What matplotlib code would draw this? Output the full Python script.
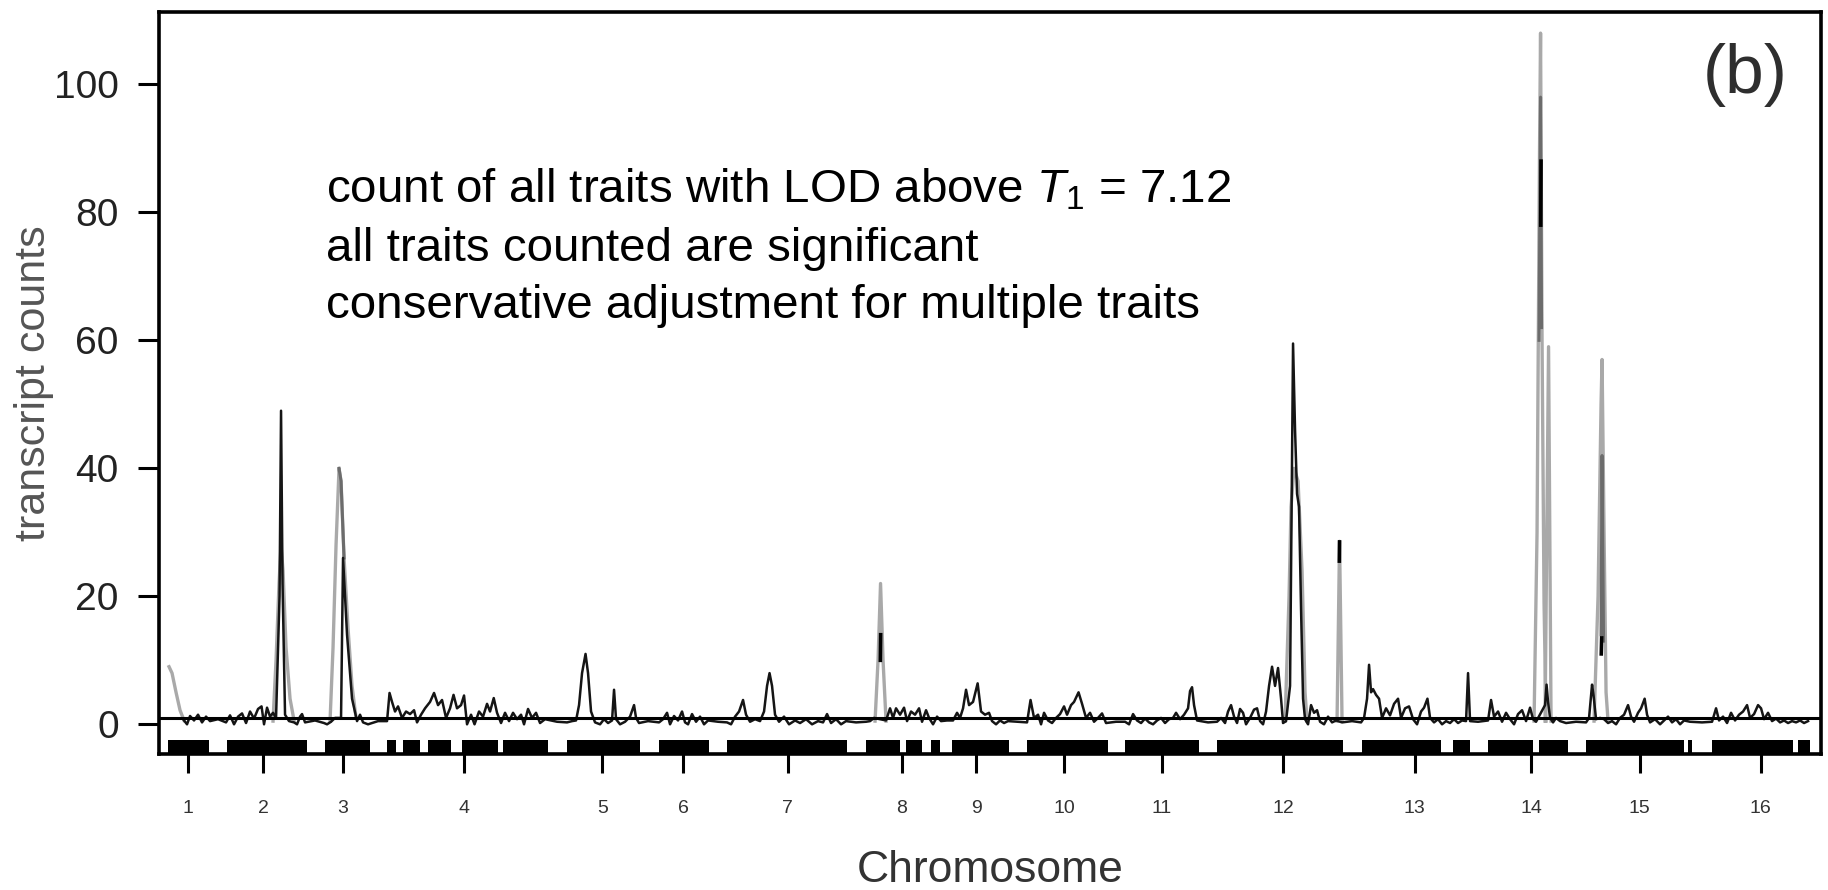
import numpy as np
import matplotlib
matplotlib.use("Agg")
import matplotlib.pyplot as plt

plt.rcParams['font.family'] = ['Liberation Sans', 'DejaVu Sans']
plt.rcParams['mathtext.fontset'] = 'custom'
plt.rcParams['mathtext.rm'] = 'Liberation Sans'
plt.rcParams['mathtext.it'] = 'Liberation Sans:italic'

nan = np.nan

# chromosome labels and their centre positions on the concatenated map
chrom_labels = [str(i) for i in range(1, 17)]
chrom_centers = [29, 104, 184, 305, 443.3, 524.2, 628.6, 743, 817, 905.3,
                 1002.8, 1124.3, 1255.6, 1372.3, 1480.5, 1601.6]

# marker-covered stretches of each chromosome (start, end)
marker_starts = [9, 68, 165.5, 228, 243.5, 269, 303, 344, 407.5, 499.5, 568,
                 706.5, 747, 772, 793, 868, 966, 1057.5, 1202.5, 1293.5,
                 1328.5, 1380, 1427, 1529, 1553, 1639]
marker_ends = [49.5, 147.5, 211, 237, 261, 292, 338.5, 389, 480.5, 549.5, 688,
               741, 763, 781, 850, 949, 1040, 1184, 1282, 1311,
               1374, 1408.5, 1525, 1533, 1634, 1651]

# transcript counts, main profile
count_pos = [
    25, 28, 31, 35, 39, 43, 47, 51, 59,
    67, 71, 75, 79, 83, 87, 91, 95, 99, 102.5, 105, 108, 111, 114, 117, 120.5,
    122, 123.5, 126, 130, 135, 138, 141, 143, 146, 156,
    165, 168, 172, 176, 182, 184, 188, 193, 198, 201, 204, 209, 219,
    228, 230.5, 233, 236, 239, 243, 247, 251, 255, 258, 262, 266, 271, 275, 279,
    283, 287, 291, 294.5, 298, 302, 305, 308, 312, 315.5, 320, 324, 328, 331,
    334.7, 338, 342, 346, 350, 354, 358, 362, 365, 369, 373, 377, 381, 386, 398,
    408, 413, 417, 420, 423, 426.5, 429, 432, 436, 441, 445, 449, 453, 455, 457,
    461, 466, 471, 475, 477, 480, 489,
    500, 504, 508, 511, 515, 519, 523, 526, 529, 533, 537, 541, 545, 549, 559,
    568, 572, 576, 580, 584, 587, 591, 596, 601, 605, 608, 610.5, 613, 616, 620,
    625, 630, 636, 641, 647, 653, 659, 664, 668, 672, 677, 682, 687, 697,
    707, 711, 715, 727, 731, 734, 737, 741, 745, 748, 752, 756, 760, 763, 767,
    770, 774, 778, 782, 788,
    794, 798, 801, 804, 807, 810, 814, 818.6, 822, 826, 830, 833, 837, 841, 845,
    849, 858,
    868, 871.5, 875, 879, 882, 885, 889, 893, 897, 901, 905, 908, 912, 915,
    919.5, 923, 927, 931, 935, 939, 943, 947, 957,
    966, 970, 974, 978, 982, 986, 990, 994, 998, 1002, 1006, 1010, 1014, 1017,
    1021, 1025, 1029, 1031, 1033, 1035, 1038, 1049,
    1058, 1062, 1066, 1069, 1072, 1075, 1078, 1081, 1084, 1087, 1091, 1095,
    1098, 1101, 1104, 1107, 1110, 1113, 1116, 1119, 1122, 1124, 1127, 1131,
    1134, 1136, 1138, 1140, 1142, 1144, 1146, 1149, 1152, 1155, 1158, 1161,
    1165, 1169, 1173, 1177, 1183, 1193,
    1202, 1205, 1208, 1210, 1212, 1214, 1217, 1220, 1223, 1227, 1231, 1235,
    1239, 1242, 1246, 1250, 1254, 1258, 1262, 1265, 1268.4, 1271, 1275, 1279,
    1283, 1287, 1291, 1295, 1299, 1303, 1307, 1309, 1311, 1319,
    1329, 1332, 1335, 1339, 1343, 1347, 1351, 1355, 1359, 1363, 1367, 1371,
    1374, 1377, 1386, 1387.5, 1389, 1391, 1394, 1397, 1401, 1407, 1417,
    1427, 1430, 1432, 1433, 1434.5, 1437, 1441, 1445, 1449, 1453, 1457, 1461,
    1465, 1469, 1472, 1475, 1479, 1482, 1485.6, 1488, 1491, 1496, 1501, 1505,
    1509, 1513, 1517, 1521, 1525, 1531, 1543,
    1553, 1557, 1560, 1564, 1568, 1572, 1576, 1580, 1584, 1588, 1591, 1595,
    1599, 1602, 1605, 1609, 1613, 1617, 1621, 1625, 1629, 1633, 1637, 1641,
    1645, 1649,
]
count_val = [
    0.6, 0.0, 1.3, 0.6, 1.5, 0.3, 1.2, 0.5, 0.8,
    0.3, 1.4, 0.0, 1.2, 1.7, 0.2, 2.0, 0.9, 2.4, 2.8, 0.0, 2.6, 1.2, 1.8, 1.0, 20,
    49, 22, 1.5, 0.5, 0.3, 0.0, 1.2, 1.6, 0.3, 0.6,
    0.2, 0.0, 0.4, 1.0, 1.0, 26, 14, 4, 0.5, 1.5, 0.3, 0.0, 0.5,
    0.5, 4.9, 3.5, 2.0, 2.8, 1.0, 2.0, 1.6, 2.2, 0.3, 1.5, 2.5, 3.5, 4.9, 3.0,
    3.8, 1.0, 2.5, 4.6, 2.5, 3.0, 4.5, 0.0, 1.5, 0.0, 2.0, 1.2, 3.2, 2.0,
    4.1, 1.8, 0.2, 1.8, 0.5, 1.8, 0.8, 1.5, 0.0, 2.4, 1.0, 1.8, 0.2, 0.8, 0.4,
    0.3, 0.5, 0.6, 3, 8, 11, 8, 2, 0.3, 0.0, 0.8, 0.2, 0.6, 5.4, 0.8,
    0.0, 0.4, 1.2, 3.0, 1.0, 0.2, 0.5,
    0.3, 0.8, 1.8, 0.0, 1.3, 0.6, 2.0, 0.3, 0.0, 1.6, 0.4, 1.2, 0.0, 0.6, 0.4,
    0.3, 0.0, 1.2, 2.0, 3.8, 1.5, 0.4, 0.8, 0.5, 2, 6, 8, 6, 1.5, 0.4,
    1.2, 0.0, 0.6, 0.2, 0.8, 0.0, 0.5, 0.3, 1.6, 0.2, 0.8, 0.0, 0.5, 0.3,
    0.4, 0.5, 1.0, 0.6, 2.5, 1.0, 2.5, 1.5, 2.6, 0.5, 2.0, 1.5, 2.5, 0.4, 2.2,
    1.0, 0.0, 1.2, 0.5, 0.6,
    0.6, 1.8, 1.0, 2.5, 5.4, 3.0, 3.5, 6.4, 2.0, 1.5, 1.8, 0.5, 0.0, 0.6, 0.2,
    0.5, 0.4,
    0.3, 3.8, 1.0, 1.5, 0.0, 1.8, 0.6, 0.2, 1.0, 1.6, 2.8, 1.5, 3.0, 3.5,
    5.0, 3.2, 1.0, 1.8, 0.4, 1.0, 1.7, 0.2, 0.4,
    0.4, 0.0, 1.6, 0.6, 0.2, 0.9, 0.3, 0.0, 0.6, 1.0, 0.2, 0.8, 1.0, 1.8,
    0.8, 1.5, 2.5, 5.2, 5.8, 3.0, 0.6, 0.3,
    0.4, 1.0, 0.2, 2.0, 3.0, 1.2, 0.2, 2.4, 1.8, 0.0, 1.0, 2.3,
    2.5, 0.5, 0.0, 2.0, 6, 9.0, 6.0, 8.8, 4.0, 0.2, 0.5, 6,
    59.5, 46, 36, 34, 18, 4, 0.8, 0.0, 3.0, 1.8, 2.2, 0.4,
    0.0, 1.2, 0.3, 0.6, 0.3, 0.5,
    0.3, 1.0, 4, 9.3, 5, 5.5, 4.6, 4.0, 1.0, 2.5, 1.4, 3.2,
    4.0, 1.0, 2.5, 2.8, 0.8, 0.0, 2.0, 2.6, 4.0, 1.0, 0.3, 0.8,
    0.0, 0.5, 0.2, 0.8, 0.2, 0.6, 0.5, 8.0, 0.5, 0.4,
    0.6, 3.8, 1.2, 2.0, 0.4, 1.8, 0.8, 0.0, 1.6, 2.2, 0.5, 2.6,
    0.8, 0.4, 3.0, 6.2, 3.5, 1.0, 0.3, 1.0, 0.5, 0.2, 0.4,
    0.3, 1.0, 4.5, 6.2, 4.5, 0.8, 1.0, 0.8, 0.2, 0.5, 0.0, 1.0,
    1.5, 3.0, 1.2, 0.4, 1.8, 2.5, 4.0, 1.5, 0.3, 0.8, 0.0, 0.6,
    1.2, 0.3, 0.8, 0.0, 0.6, 0.4, 0.3,
    0.4, 2.5, 0.6, 1.2, 0.2, 1.8, 0.6, 1.5, 2.0, 3.0, 1.0, 1.6,
    3.0, 2.5, 0.8, 1.8, 0.5, 0.9, 0.3, 0.6, 0.2, 0.5, 0.3, 0.6,
    0.2, 0.5,
]

# broad hotspot peaks (light grey trace)
peak_pos = [10, 13, 17, 21, 25, nan,
            114, 117, 120, 122, 124, 127, 131, 135, nan,
            171, 174, 177, 180, 182, 185, 189, 193, 197, nan,
            716, 719, 721.5, 724, 727, nan,
            1126, 1130, 1132, 1135, 1139, 1143, 1146, 1148, nan,
            1178, 1180.5, 1183, nan,
            1375, 1378, 1380.5, 1381.5, 1383, 1385, 1387, nan,
            1386, 1389.5, 1392, nan,
            1435, 1439, 1442, 1443, 1445, 1447, 1449]
peak_val = [9.0, 8.0, 5.0, 2.2, 0.6, nan,
            0.5, 10, 22, 28, 24, 12, 4, 0.6, nan,
            0.5, 12, 28, 40, 38, 26, 15, 6, 1.0, nan,
            0.5, 10, 22, 10, 0.5, nan,
            0.5, 20, 34, 40, 38, 24, 5, 0.5, nan,
            0.5, 28.6, 0.5, nan,
            0.5, 30, 90, 108, 60, 19, 0.5, nan,
            0.5, 59, 0.5, nan,
            0.5, 20, 50, 57, 30, 5, 0.5]

# upper parts of the hotspots (dark grey trace)
upper_pos = [180, 182, 185, nan,
             1380, 1381.5, 1382.5, nan,
             1442, 1443, 1444.5]
upper_val = [40, 38, 26, nan,
             60, 98, 62, nan,
             14, 42, 13]

# short dark stretches inside the hotspots
core_pos = [721.3, 721.6, nan, 1180.3, 1180.5, nan,
            1381.7, 1382, nan, 1442.2, 1442.6]
core_val = [10, 14, nan, 25.5, 28.5, nan,
            78, 88, nan, 11, 13.5]

threshold = 1.0
yticks = [0, 20, 40, 60, 80, 100]

fig = plt.figure(figsize=(18.28, 8.90), dpi=100, facecolor='white')
ax = fig.add_axes([0.0870, 0.1528, 0.9092, 0.8337])
ax.set_xlim(0, 1662)
ax.set_ylim(-4.64, 111.3)

ax.plot(peak_pos, peak_val, color='#a9a9a9', lw=2.4, zorder=2)
ax.plot(upper_pos, upper_val, color='#6c6c6c', lw=2.2, zorder=3)
ax.plot(count_pos, count_val, color='#151515', lw=1.8, zorder=4)
ax.plot(core_pos, core_val, color='#000000', lw=2.6, zorder=5)
ax.axhline(threshold, color='black', lw=2.2, zorder=6)

widths = [e - s for s, e in zip(marker_starts, marker_ends)]
ax.broken_barh(list(zip(marker_starts, widths)), (-4.64, 2.24),
               facecolors='black', edgecolors='none', zorder=6)

for sp in ax.spines.values():
    sp.set_linewidth(2.6)

ax.set_yticks(yticks)
ax.tick_params(axis='y', direction='out', length=15, width=2.2, pad=14,
               labelsize=28, labelcolor='#222222')
ax.set_xticks(chrom_centers, chrom_labels)
ax.tick_params(axis='x', direction='out', length=14, width=2.2, pad=19,
               labelsize=14, labelcolor='#333333')

ax.set_ylabel('transcript counts', fontsize=31, color='#555555', labelpad=0)
ax.set_xlabel('Chromosome', fontsize=32, color='#333333', labelpad=24)

ax.text(0.98, 0.915, '(b)', transform=ax.transAxes, ha='right', va='center',
        fontsize=50, color='#2e2e2e')

notes = [r'count of all traits with LOD above $T_1$ = 7.12',
         'all traits counted are significant',
         'conservative adjustment for multiple traits']
for txt, yb in zip(notes, [0.7430, 0.6650, 0.5880]):
    ax.text(0.1005, yb, txt, transform=ax.transAxes, ha='left', va='baseline',
            fontsize=34.2, color='black')

fig.savefig('out.png', dpi=100, facecolor='white')
